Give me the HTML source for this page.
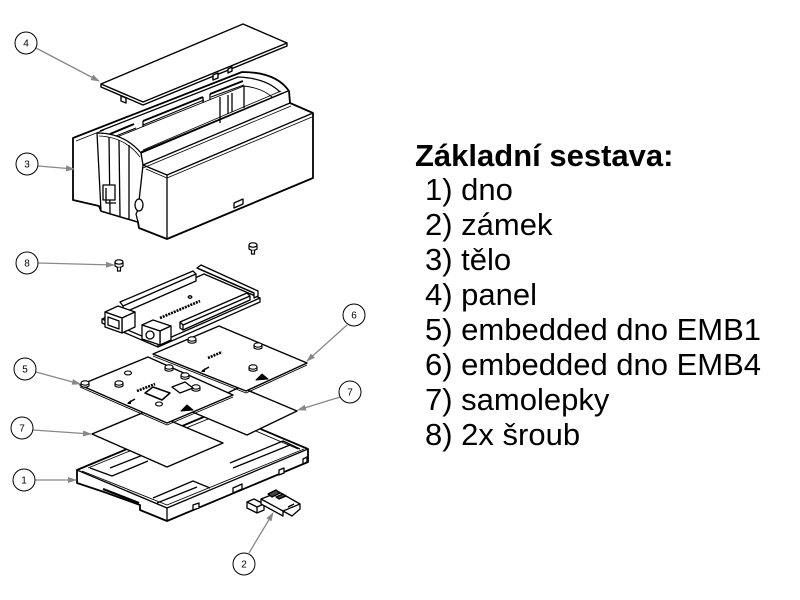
<!DOCTYPE html>
<html><head><meta charset="utf-8"><style>
html,body{margin:0;padding:0;background:#fff;}
svg{display:block}
.t{font-family:"Liberation Sans",Arial,sans-serif;font-size:31px;fill:#000}
.c{font-family:"Liberation Sans",Arial,sans-serif;font-size:10px;fill:#000;text-anchor:middle}
</style></head><body>
<svg width="800" height="600" viewBox="0 0 800 600" xmlns="http://www.w3.org/2000/svg">
<defs>
<marker id="ar" markerWidth="9" markerHeight="6" refX="8" refY="3" orient="auto" markerUnits="userSpaceOnUse">
<path d="M0,0 L9,3 L0,6 Z" fill="#888"/>
</marker>
</defs>
<rect width="800" height="600" fill="#fff"/>

<!-- ===== BODY (3) ===== -->
<g fill="none" stroke="#000" stroke-width="1.3" stroke-linejoin="round">
<path fill="#fff" stroke-width="1.8" d="M73,138 L242,72 Q276,72 289,91 L290,103 L313,113 L313,178 L167,239 L139,228 L138,222 L101,211 L99,206 L73,200 Z"/>
<!-- chamfer back edge -->
<path stroke-width="0.8" d="M76,141 L104,130"/>
<!-- inner opening -->
<path d="M100,131 L238,77 Q266,78 280,92"/>
<path stroke-width="0.9" d="M112,139 L244,86 Q262,88 272,97"/>
<path d="M141,152 L283,93"/>
<path stroke-width="0.8" d="M143,150 L281,91"/>
<!-- slots on back wall -->
<path stroke-width="2" d="M110,134 L134,124 M143,121 L203,97 M210,94 L243,81"/>
<path stroke-width="1" d="M111,138 L136,128 M143,125 L204,100 M211,97 L244,85"/>
<path d="M143,121 L143,127 M203,97 L203,103 M210,94 L210,100"/>
<!-- inner vertical walls -->
<path d="M220,97 L220,123 M228,95 L228,114 M232,93 L232,112 M244,86 L244,108"/>
<!-- upper front strip -->
<path d="M141,153 L288,91"/>
<path d="M143,165 L290,103"/>
<path stroke-width="0.8" d="M143,168 L291,106"/>
<!-- lower box -->
<path d="M143,165 L167,175 L313,113"/>
<path stroke-width="0.8" d="M146,169 L167,178 L312,117"/>
<path d="M167,175 L167,239"/>
<!-- cap -->
<path fill="#fff" d="M97,133 Q124,133 141,153 L143,165 L138,210 L136,214 L138,222 L101,211 Z"/>
<path d="M109,137 L110,213 M119,140 L120,216 M129,145 L129,219"/>
<path stroke-width="0.8" d="M99,136 Q125,137 140,157"/>
<rect x="103" y="185" width="12" height="15" fill="#fff"/>
<path d="M106,188 L106,203 L116,203"/>
<ellipse cx="139" cy="205" rx="4" ry="6" fill="#fff"/>
<!-- window on long face -->
<path fill="#fff" d="M234,203 L243,199 L243,204 L234,208 Z"/>
</g>

<!-- ===== PANEL (4) ===== -->
<g fill="#fff" stroke="#000" stroke-width="1.4" stroke-linejoin="round">
<path d="M101,84 L243,24 L287,43 L287,46 L143,105 L101,87 Z"/>
<path fill="none" d="M101,84 L143,102 L287,43"/>
<path d="M121,96 L126,98 L126,103 L121,101 Z"/>
<path d="M213,75 L218,73 L218,78 L213,80 Z"/>
<path d="M228,69 L232,67 L232,71 L228,73 Z"/>
</g>

<!-- ===== SCREWS (8) ===== -->
<g fill="#fff" stroke="#000" stroke-width="1.2">
<path d="M115,262 L115,266 Q119,269 123,266 L123,262"/>
<ellipse cx="119" cy="262" rx="4" ry="2.2"/>
<path d="M117.5,267.5 L117.5,271 L120.5,271 L120.5,267.5"/>
<path d="M249,245 L249,249 Q253,252 257,249 L257,245"/>
<ellipse cx="253" cy="245" rx="4" ry="2.2"/>
<path d="M251.5,250.5 L251.5,254 L254.5,254 L254.5,250.5"/>
</g>

<!-- ===== TRAY (1) ===== -->
<g fill="none" stroke="#000" stroke-width="1.3" stroke-linejoin="round">
<path fill="#fff" stroke-width="1.8" d="M77,470 L218,411 L308,449 L308,462 L167,521 L140,510 L140,505 L104,492 L77,483 Z"/>
<path d="M77,470 L167,508 L308,449"/>
<path d="M167,508 L167,521"/>
<path stroke-width="0.9" d="M82,471 L167,505 L304,449"/>
<path stroke-width="0.9" d="M88,468 L218,415 L298,449"/>
<path stroke-width="2.2" d="M103,489 L139,503"/>
<!-- left channel -->
<path d="M90,468 L112,476 L148,461 M110,468 L143,455"/>
<!-- front channel -->
<path d="M153,498 L193,481 L210,488 M157,503 L197,487"/>
<!-- right channel -->
<path d="M230,463 L283,441 L300,449 M233,468 L290,445"/>
<!-- windows -->
<path fill="#fff" d="M193,505 L199,503 L199,508 L193,510 Z"/>
<path fill="#fff" d="M233,488 L242,484 L242,489 L233,493 Z"/>
<path fill="#fff" d="M279,470 L284,468 L284,473 L279,475 Z"/>
<path fill="#fff" d="M303,459 L307,457 L307,462 L303,464 Z"/>
</g>

<!-- ===== ZAMEK (2) ===== -->
<g fill="#fff" stroke="#000" stroke-width="1.3" stroke-linejoin="round">
<path d="M247,502 L254,499 L264,504 L264,510 L257,513 L247,508 Z"/>
<path fill="none" d="M247,502 L257,507 L264,504 M257,507 L257,513"/>
<path d="M261,499 L279,492 L300,504 L300,509 L292,516 L283,511 L283,516 L261,504 Z"/>
<path fill="none" d="M261,499 L283,511 L300,504"/>
<path fill="#444" d="M268,494 L276,490 L280,493 L272,497 Z"/>
<path fill="#444" d="M276,497 L283,494 L286,496 L279,499 Z"/>
<path fill="none" d="M288,507 L294,504"/>
</g>

<!-- ===== PLATE 7 lower ===== -->
<g fill="#fff" stroke="#000" stroke-width="1.4" stroke-linejoin="round">
<path d="M92,434 L147,411 L223,443 L167,467 Z"/>
</g>
<!-- ===== PLATE 7 right ===== -->
<g fill="#fff" stroke="#000" stroke-width="1.4" stroke-linejoin="round">
<path d="M297,411 L247,435 L190,411 L240,387 Z"/>
</g>

<!-- ===== PLATE 6 ===== -->
<g fill="#fff" stroke="#000" stroke-width="1.4" stroke-linejoin="round">
<path d="M153,354 L219,326 L307,363 L246,391 Z"/>
<path fill="none" stroke-width="0.9" d="M153,356 L246,393 L307,365"/>
<g stroke-width="1.1">
<path d="M188,339 L188,342 Q192,344.5 196,342 L196,339"/><ellipse cx="192" cy="339" rx="4" ry="2.2"/>
<path d="M254,345 L254,348 Q258,350.5 262,348 L262,345"/><ellipse cx="258" cy="345" rx="4" ry="2.2"/>
<path d="M249,367 L249,370 Q253,372.5 257,370 L257,367"/><ellipse cx="253" cy="367" rx="4" ry="2.2"/>
</g>
<path fill="none" stroke-width="2.6" stroke-dasharray="2,1" d="M208,358 L222,352"/>
<path fill="none" stroke-width="1.5" d="M202,371 L209,367"/>
<path fill="#000" stroke="none" d="M201,372 L205,368 L205,372 Z"/>
<path fill="#000" stroke-width="1" d="M256,380 L262,374 L268,379 Z"/>
</g>

<!-- ===== PLATE 5 ===== -->
<g fill="#fff" stroke="#000" stroke-width="1.4" stroke-linejoin="round">
<path d="M80,385 L148,357 L233,395 L167,423 Z"/>
<path fill="none" stroke-width="0.9" d="M80,387 L167,425 L233,397"/>
<g stroke-width="1.1">
<path d="M81,383 L81,386 Q85,388.5 89,386 L89,383"/><ellipse cx="85" cy="383" rx="4" ry="2.2"/>
<path d="M115,383 L115,386 Q119,388.5 123,386 L123,383"/><ellipse cx="119" cy="383" rx="4" ry="2.2"/>
<ellipse cx="128" cy="373" rx="3.5" ry="2"/>
<path d="M165,367 L165,370 Q169,372.5 173,370 L173,367"/><ellipse cx="169" cy="367" rx="4" ry="2.2"/>
<path d="M181,375 L181,378 Q185,380.5 189,378 L189,375"/><ellipse cx="185" cy="375" rx="4" ry="2.2"/>
<path d="M192,387 L192,390 Q196,392.5 200,390 L200,387"/><ellipse cx="196" cy="387" rx="4" ry="2.2"/>
<ellipse cx="159" cy="404" rx="3.5" ry="2"/>
</g>
<path fill="none" stroke-width="1.5" d="M145,393 L153,387 L170,393 L162,400 Z"/>
<path fill="none" stroke-width="1.3" d="M172,387 L185,382 L193,388 L180,393 Z"/>
<path fill="none" stroke-width="2.6" stroke-dasharray="2,1" d="M137,391 L155,384"/>
<path fill="none" stroke-width="1.5" d="M128,403 L135,399"/>
<path fill="#000" stroke="none" d="M127,404 L131,400 L131,404 Z"/>
<path fill="#000" stroke-width="1" d="M181,411 L187,405 L193,410 Z"/>
</g>

<!-- ===== BOARD ===== -->
<g fill="#fff" stroke="#000" stroke-width="1.3" stroke-linejoin="round">
<path d="M102,319 L204,274 L260,298 L260,302 L158,347 L102,323 Z"/>
<path fill="none" d="M102,319 L158,343 L260,298"/>
<path fill="none" d="M158,343 L158,347"/>
<!-- back wall -->
<path d="M120,302 L193,271 L196,274 L196,281 L123,313 L123,306 Z"/>
<path fill="none" d="M123,306 L196,274"/>
<!-- right end wall -->
<path d="M197,268 L201,265 L258,291 L258,296 L254,298 L254,293 Z"/>
<path fill="none" d="M197,268 L254,293"/>
<!-- front inner wall -->
<path d="M180,322 L247,293 L250,296 L250,300 L183,330 L180,328 Z"/>
<path fill="none" d="M180,322 L183,325 L250,296 M183,325 L183,330"/>
<!-- USB box -->
<path d="M105,312 L118,306 L135,312 L122,318 Z"/>
<path d="M122,318 L135,312 L135,327 L122,333 Z"/>
<path d="M105,312 L122,318 L122,333 L105,327 Z"/>
<path d="M108,317 L119,321 L119,329 L108,325 Z"/>
<!-- jack box -->
<path d="M142,325 L153,320 L171,326 L160,331 Z"/>
<path d="M160,331 L171,326 L171,340 L160,345 Z"/>
<path d="M142,325 L160,331 L160,345 L142,339 Z"/>
<circle cx="150" cy="335" r="4"/>
<path fill="none" stroke-width="2.6" stroke-dasharray="2,1" d="M160,318 L200,301"/>
<ellipse cx="190" cy="297" rx="1.8" ry="1.2"/>
</g>

<!-- ===== LEADERS ===== -->
<g stroke="#888" stroke-width="1.3" fill="none">
<path d="M36,48 L99,81" marker-end="url(#ar)"/>
<path d="M38,166 L74,169" marker-end="url(#ar)"/>
<path d="M38,263 L114,265" marker-end="url(#ar)"/>
<path d="M347,325 L307,361" marker-end="url(#ar)"/>
<path d="M36,372 L80,384" marker-end="url(#ar)"/>
<path d="M340,397 L298,410" marker-end="url(#ar)"/>
<path d="M33,430 L91,434" marker-end="url(#ar)"/>
<path d="M35,480 L76,480" marker-end="url(#ar)"/>
<path d="M249,553 L273,513" marker-end="url(#ar)"/>
</g>

<!-- ===== CIRCLES ===== -->
<g fill="#fff" stroke="#000" stroke-width="1">
<circle cx="26" cy="43" r="11"/>
<circle cx="27" cy="164" r="11"/>
<circle cx="27" cy="263" r="11"/>
<circle cx="354" cy="315" r="11"/>
<circle cx="25" cy="369" r="11"/>
<circle cx="350" cy="392" r="11"/>
<circle cx="22" cy="428" r="11"/>
<circle cx="24" cy="480" r="11"/>
<circle cx="244" cy="564" r="11"/>
</g>
<text class="c" x="26" y="46.5">4</text>
<text class="c" x="27" y="167.5">3</text>
<text class="c" x="27" y="266.5">8</text>
<text class="c" x="354" y="318.5">6</text>
<text class="c" x="25" y="372.5">5</text>
<text class="c" x="350" y="395.5">7</text>
<text class="c" x="22" y="431.5">7</text>
<text class="c" x="24" y="483.5">1</text>
<text class="c" x="244" y="567.5">2</text>

<!-- ===== TEXT ===== -->
<text class="t" x="415" y="166" font-weight="bold">Základní sestava:</text>
<text class="t" x="425" y="200">1) dno</text>
<text class="t" x="425" y="235">2) zámek</text>
<text class="t" x="425" y="270">3) tělo</text>
<text class="t" x="425" y="305">4) panel</text>
<text class="t" x="425" y="340">5) embedded dno EMB1</text>
<text class="t" x="425" y="375">6) embedded dno EMB4</text>
<text class="t" x="425" y="410">7) samolepky</text>
<text class="t" x="425" y="445">8) 2x šroub</text>
</svg>
</body></html>
